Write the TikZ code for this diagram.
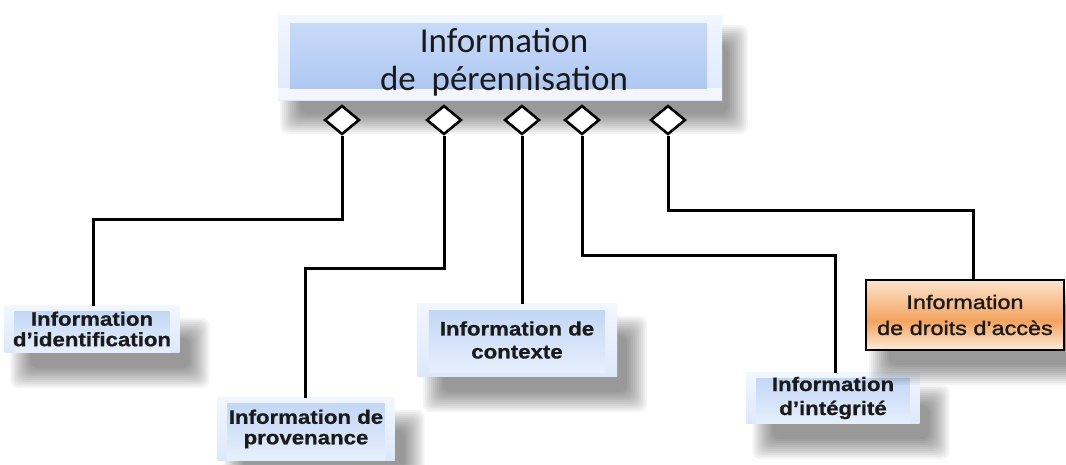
\documentclass[tikz,border=0pt]{standalone}
\usepackage{fontspec}
\setmainfont{Carlito}
\newfontfamily\labfont[FakeStretch=1.14,FakeBold=0.8]{Liberation Sans}
\newfontfamily\orfont[FakeStretch=1.2,FakeBold=1.4]{Liberation Sans}
\usetikzlibrary{shapes.geometric,backgrounds}
\definecolor{facetop}{HTML}{C8DAF8}
\definecolor{facebot}{HTML}{AFC8F2}
\definecolor{smalltop}{HTML}{C3D7F6}
\definecolor{smallbot}{HTML}{E6EFFC}
\definecolor{bevel}{HTML}{DCE8FA}
\definecolor{bevtop}{HTML}{F2F7FE}
\definecolor{ormid}{HTML}{F4A35E}
\definecolor{orlight}{HTML}{FCE5CF}
\definecolor{orbot}{HTML}{FDEEE0}
\definecolor{inktext}{HTML}{1A1A1A}
\tikzset{
  boxnode/.style={inner sep=0pt, align=center, text=inktext},
  lab/.style={boxnode, font=\labfont\bfseries\fontsize{19.5}{20.5}\selectfont},
  dia/.style={diamond, draw, line width=2.6pt, fill=white, minimum width=35pt, minimum height=29pt, inner sep=0pt},
  conn/.style={line width=3pt},
  shadowpiece/.style={black, opacity=0.042, rounded corners=8pt}
}
% soft shadow: #1 NW corner, #2 SE corner, #3 dx right, #4 dy down
\newcommand\softshadow[4]{%
  \foreach \m in {-12,-10,...,8}{%
    \fill[shadowpiece] ([xshift={(#3+\m)*1pt}, yshift={(-#4-\m)*1pt}]#1) rectangle ([xshift={(#3-\m)*1pt}, yshift={(-#4+\m)*1pt}]#2);
  }%
}
\newcommand\decobox[4]{%
  \softshadow{#1.north west}{#1.south east}{18}{24}
  \shade[top color=bevtop, bottom color=bevel] (#1.north west) rectangle (#1.south east);
  \shade[top color=smalltop, bottom color=smallbot] ([xshift=#2,yshift=-#3]#1.north west) rectangle ([xshift=-#2,yshift=#4]#1.south east);
}
\begin{document}
\begin{tikzpicture}[x=1pt,y=-1pt]
\useasboundingbox (0,0) rectangle (1066,464);

% main box
\coordinate (mainNW) at (278,15);
\coordinate (mainSE) at (722,100);
\node[boxnode, font=\fontsize{35}{38}\selectfont] (main) at (504,62) {Information\\de\ \ pérennisation};

% diamonds
\node[dia] (d1) at (342,120) {};
\node[dia] (d2) at (444,120) {};
\node[dia] (d3) at (522,120) {};
\node[dia] (d4) at (582,120) {};
\node[dia] (d5) at (668,120) {};

% child boxes
\node[lab, minimum width=175pt, minimum height=46pt] (ident) at (92,329) {Information\\d’identification};
\node[lab, minimum width=177pt, minimum height=62pt] (prov) at (306,429) {Information de\\provenance};
\node[lab, minimum width=200pt, minimum height=72pt, font=\labfont\bfseries\fontsize{19.5}{23}\selectfont] (ctx) at (517,340) {Information de\\contexte};
\node[lab, minimum width=173pt, minimum height=50pt, font=\labfont\bfseries\fontsize{19.5}{24}\selectfont] (integ) at (833,398) {Information\\d’intégrité};
\node[boxnode, draw=black, line width=1.6pt, minimum width=198pt, minimum height=70pt, font=\orfont\fontsize{19.5}{26}\selectfont] (acces) at (965,315) {Information\\de droits d’accès};

% connectors
\coordinate (k1) at (93,219);
\coordinate (k2) at (305,268);
\coordinate (k4) at (835,255);
\coordinate (k5) at (973,210);
\draw[conn] (d1.south) |- (k1) -- (k1 |- ident.north);
\draw[conn] (d2.south) |- (k2) -- (k2 |- prov.north);
\draw[conn] (d3.south) -- (d3.south |- ctx.north);
\draw[conn] (d4.south) |- (k4) -- (k4 |- integ.north);
\draw[conn] (d5.south) |- (k5) -- (k5 |- acces.north);

\begin{pgfonlayer}{background}
  \fill[white] (0,0) rectangle (1066,464);
  % main box decoration
  \softshadow{mainNW}{mainSE}{14}{22}
  \shade[top color=bevtop, bottom color=bevel] (mainNW) rectangle (mainSE);
  \fill[white!96!blue] ([yshift=12pt]mainNW |- mainSE) rectangle (mainSE);
  \shade[top color=facetop, bottom color=facebot] ([xshift=12pt,yshift=-8pt]mainNW) rectangle ([xshift=-15pt,yshift=12pt]mainSE);
  % small boxes
  \decobox{ident}{10pt}{6pt}{0pt}
  \decobox{prov}{10pt}{6pt}{0pt}
  \decobox{ctx}{12pt}{7pt}{4pt}
  \decobox{integ}{10pt}{6pt}{0pt}
  % orange box
  \softshadow{acces.north west}{acces.south east}{16}{22}
  \shade[top color=orlight, bottom color=ormid] (acces.north west) rectangle ([yshift=-6pt]acces.east);
  \shade[top color=ormid, bottom color=orbot] ([yshift=-6pt]acces.west) rectangle (acces.south east);
\end{pgfonlayer}
\end{tikzpicture}
\end{document}
